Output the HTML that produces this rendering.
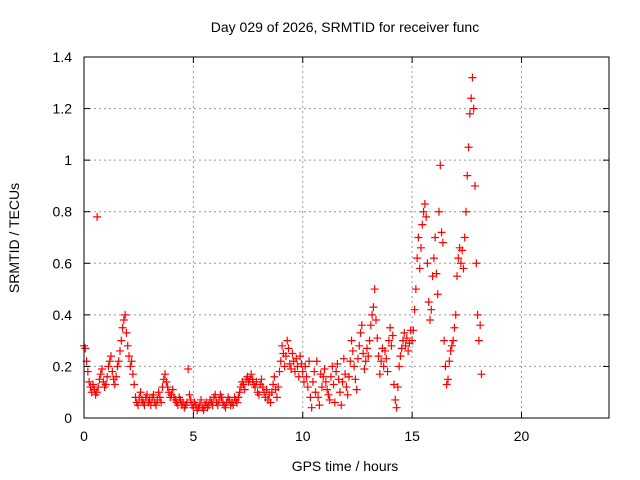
<!DOCTYPE html>
<html><head><meta charset="utf-8"><style>
body{margin:0;background:#fff;}
svg{display:block;font-family:"Liberation Sans",sans-serif;}
</style></head><body>
<svg id="chart" width="640" height="480">
<text x="345" y="32" font-size="14" text-anchor="middle">Day 029 of 2026, SRMTID for receiver func</text>
<text x="345" y="471" font-size="14" text-anchor="middle">GPS time / hours</text>
<text transform="translate(19,238) rotate(-90)" font-size="14" text-anchor="middle">SRMTID / TECUs</text>
<g id="grid"></g><g id="ticks"></g><g id="marks"></g>
<rect x="84" y="57" width="525" height="361" fill="none" stroke="#000"/>
</svg>
<script>
const xTicks=[0,5,10,15,20];
const yTicks=[0,0.2,0.4,0.6,0.8,1,1.2,1.4];
const yTickLabels=["0","0.2","0.4","0.6","0.8","1","1.2","1.4"];
const timeStep=0.0588;
const values=[
0.28,0.27,0.22,0.18,0.14,0.12,0.10,0.13,0.11,0.09,0.10,0.12,0.15,0.17,0.19,0.14,0.12,
0.13,0.16,0.20,0.22,0.24,0.18,0.15,0.13,0.16,0.20,0.22,0.26,0.30,0.35,0.38,0.40,0.33,
0.28,0.24,0.20,0.22,0.17,0.13,0.08,0.06,0.05,0.08,0.10,0.07,0.06,0.05,0.08,0.09,0.06,
0.07,0.05,0.08,0.09,0.06,0.05,0.07,0.10,0.08,0.06,0.12,0.15,0.17,0.14,0.12,0.10,0.08,
0.09,0.11,0.08,0.07,0.06,0.05,0.08,0.07,0.05,0.06,0.04,0.05,0.06,0.19,0.09,0.07,0.05,
0.04,0.06,0.05,0.03,0.04,0.05,0.07,0.04,0.03,0.05,0.06,0.04,0.05,0.07,0.06,0.05,0.08,
0.09,0.06,0.05,0.07,0.09,0.08,0.06,0.05,0.04,0.06,0.08,0.07,0.05,0.06,0.05,0.08,0.07,
0.06,0.08,0.10,0.12,0.14,0.13,0.11,0.15,0.16,0.14,0.15,0.17,0.15,0.13,0.12,0.14,0.10,
0.09,0.13,0.15,0.12,0.10,0.08,0.11,0.07,0.09,0.06,0.10,0.13,0.16,0.11,0.08,0.12,0.18,
0.22,0.28,0.25,0.20,0.24,0.30,0.27,0.21,0.19,0.25,0.22,0.18,0.23,0.20,0.16,0.24,0.21,
0.18,0.14,0.20,0.16,0.12,0.22,0.08,0.04,0.14,0.18,0.10,0.22,0.08,0.05,0.17,0.12,0.16,
0.19,0.14,0.11,0.09,0.07,0.16,0.20,0.13,0.06,0.18,0.21,0.15,0.10,0.05,0.14,0.23,0.17,
0.12,0.09,0.16,0.22,0.30,0.26,0.20,0.15,0.11,0.23,0.28,0.33,0.36,0.25,0.19,0.22,0.27,
0.24,0.30,0.36,0.40,0.43,0.50,0.38,0.31,0.24,0.17,0.22,0.27,0.20,0.26,0.23,0.18,0.30,
0.35,0.28,0.32,0.13,0.07,0.04,0.12,0.20,0.24,0.27,0.30,0.33,0.28,0.31,0.26,0.29,0.34,
0.30,0.34,0.42,0.50,0.62,0.70,0.58,0.66,0.75,0.80,0.83,0.78,0.60,0.45,0.38,0.42,0.55,
0.62,0.70,0.56,0.48,0.80,0.98,0.72,0.68,0.30,0.20,0.13,0.15,0.22,0.26,0.28,0.30,0.35,
0.40,0.55,0.62,0.66,0.60,0.65,0.58,0.70,0.80,0.94,1.05,1.18,1.24,1.32,1.20,0.90,0.60,
0.40,0.30,0.36,0.17
];
const extraTimes=[0.6];
const extraValues=[0.78];
const X0=84,X1=609,Y0=418,Y1=57;
const xs=t=>X0+t/24*(X1-X0);
const ys=v=>Y0-v/1.4*(Y0-Y1);
const NS="http://www.w3.org/2000/svg";
const grid=document.getElementById('grid'),ticks=document.getElementById('ticks'),marks=document.getElementById('marks');
function mk(tag,attrs,parent){const e=document.createElementNS(NS,tag);for(const k in attrs)e.setAttribute(k,attrs[k]);parent.appendChild(e);return e;}
xTicks.forEach(t=>{const x=xs(t);
 if(t>0){const g=mk('line',{x1:x,x2:x,y1:Y0,y2:Y1,stroke:'#999','stroke-dasharray':'2,3'},grid);
 
 }
 mk('line',{x1:x,x2:x,y1:Y0,y2:Y0-6,stroke:'#000'},ticks);mk('line',{x1:x,x2:x,y1:Y1,y2:Y1+6,stroke:'#000'},ticks);
 const l=mk('text',{x:x,y:Y0+23,'font-size':14,'text-anchor':'middle'},ticks);l.textContent=t;
 
 });
yTicks.forEach((v,i)=>{const y=ys(v);
 if(v>0&&v<1.4){const g=mk('line',{x1:X0,x2:X1,y1:y,y2:y,stroke:'#999','stroke-dasharray':'2,3'},grid);
 
 }
 mk('line',{x1:X0,x2:X0+6,y1:y,y2:y,stroke:'#000'},ticks);mk('line',{x1:X1,x2:X1-6,y1:y,y2:y,stroke:'#000'},ticks);
 const l=mk('text',{x:X0-12,y:y+5,'font-size':14,'text-anchor':'end'},ticks);l.textContent=yTickLabels[i];
 
 });
function plus(t,v){const x=xs(t),y=ys(v);
 const p=mk('path',{d:`M${x-4},${y}H${x+4}M${x},${y-4}V${y+4}`,stroke:'#f00','stroke-width':1.2,fill:'none'},marks);
 
 }
values.forEach((v,i)=>plus(i*timeStep,v));
extraValues.forEach((v,i)=>plus(extraTimes[i],v));
</script>
</body></html>
